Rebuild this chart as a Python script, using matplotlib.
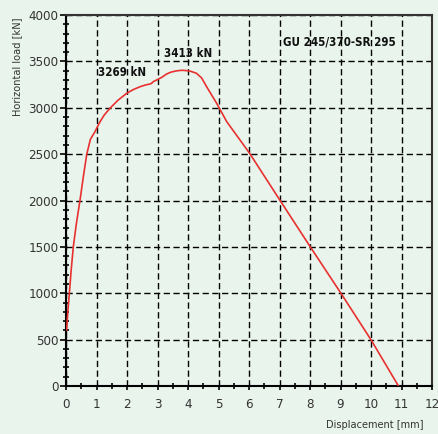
import matplotlib.pyplot as plt
from matplotlib.ticker import MultipleLocator

# load-displacement curve
disp = [0.02, 0.06, 0.11, 0.17, 0.24, 0.34, 0.46, 0.57, 0.68, 0.80, 0.95,
        1.1, 1.25, 1.44, 1.7, 1.99, 2.2, 2.43, 2.6, 2.75, 2.8, 2.86, 2.97,
        3.14, 3.30, 3.45, 3.63, 3.8, 3.96, 4.1, 4.28, 4.45, 4.61, 4.94, 5.27,
        6.02, 7.03, 8.02, 9.03, 10.01, 10.9]
load = [604, 800, 1000, 1250, 1502, 1750, 2005, 2260, 2498, 2660, 2742,
        2840, 2920, 2994, 3080, 3156, 3195, 3227, 3245, 3256, 3262, 3281, 3299,
        3328, 3364, 3385, 3398, 3404, 3400, 3392, 3371, 3320, 3227, 3048, 2850,
        2509, 1995, 1495, 992, 493, 0]

labels = ["3269 kN", "3413 kN", "GU 245/370-SR 295"]
label_x = [1.05, 3.2, 7.1]
label_y = [3385, 3590, 3710]

bg = "#e9f4ed"
plt.rcParams["font.family"] = ["DejaVu Sans"]
plt.rcParams["font.stretch"] = "condensed"

fig = plt.figure(figsize=(4.38, 4.34), dpi=100, facecolor=bg)
ax = fig.add_axes([66 / 438, 48 / 434, 366 / 438, 371 / 434], facecolor=bg)

ax.plot(disp, load, color="#e8312f", lw=1.2, zorder=3)

ax.set_xlim(0, 12)
ax.set_ylim(0, 4000)
ax.xaxis.set_major_locator(MultipleLocator(1))
ax.xaxis.set_minor_locator(MultipleLocator(0.5))
ax.yaxis.set_major_locator(MultipleLocator(500))
ax.yaxis.set_minor_locator(MultipleLocator(100))

ax.grid(True, which="major", color="black", ls=(0, (4.5, 2.5)), lw=1.0)
ax.tick_params(axis="y", which="major", direction="out", length=4.5, width=1.2,
               pad=1, labelsize=9.5, labelcolor="#333333")
ax.tick_params(axis="y", which="minor", direction="inout", length=4, width=1.2)
ax.tick_params(axis="x", which="major", direction="out", length=3, width=1.2,
               pad=6, labelsize=9.5, labelcolor="#333333")
ax.tick_params(axis="x", which="minor", direction="inout", length=5, width=1.2)

for s in ["left", "bottom"]:
    ax.spines[s].set_linewidth(1.5)
    ax.spines[s].set_color("black")
for s in ["top", "right"]:
    ax.spines[s].set_linewidth(1.5)
    ax.spines[s].set_color("#333333")

for t, x, y in zip(labels, label_x, label_y):
    ax.text(x, y, t, fontsize=8.3, fontweight="bold", va="center", ha="left",
            color="#111111")

fig.text(17 / 438, 1 - 17 / 434, "Horizontal load [kN]", rotation=90,
         ha="center", va="top", fontsize=7.8, color="#333333")
fig.text(423 / 438, 1 - 425 / 434, "Displacement [mm]", ha="right",
         va="center", fontsize=7.8, color="#333333")

fig.savefig("out.png", dpi=100, facecolor=bg)
